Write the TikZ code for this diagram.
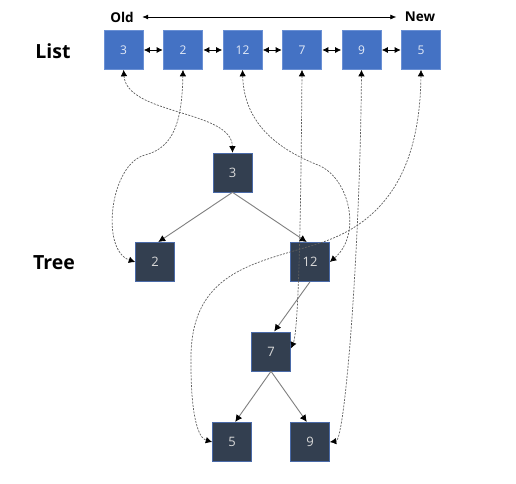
\documentclass[tikz,border=0pt]{standalone}
\usepackage{fontspec}
\setmainfont{Open Sans}
\usetikzlibrary{arrows.meta}
\definecolor{listfill}{HTML}{4472C4}
\definecolor{listborder}{HTML}{6A90D4}
\definecolor{treefill}{HTML}{333F50}
\definecolor{treeborder}{HTML}{4A6AA8}
\definecolor{listtext}{HTML}{E4EBF7}
\definecolor{treetext}{HTML}{D9D9D9}
\definecolor{edgegray}{HTML}{7F7F7F}
\definecolor{dashgray}{HTML}{606060}
\tikzset{
  listbox/.style={draw=listborder, line width=0.6pt, fill=listfill, minimum size=39pt, inner sep=0pt, text=listtext, font=\fontsize{12}{12}\selectfont},
  treebox/.style={draw=treeborder, line width=0.6pt, fill=treefill, minimum size=39pt, inner sep=0pt, text=treetext, font=\fontsize{13}{13}\selectfont},
  lbl/.style={font=\bfseries\fontsize{19.5}{20}\selectfont, text=black},
  small lbl/.style={font=\bfseries\fontsize{13.5}{14}\selectfont, text=black},
  dlink/.style={{Latex[length=6pt,width=6pt]}-{Latex[length=6pt,width=6pt]}, line width=0.8pt, black, shorten <=0.5pt, shorten >=0.5pt},
  tedge/.style={-{Latex[length=7pt,width=7pt,color=black]}, edgegray, line width=0.9pt, shorten >=0.3pt},
  ptr/.style={{Latex[length=6.5pt,width=6.5pt,color=black]}-{Latex[length=6.5pt,width=6.5pt,color=black]}, dashgray, line width=0.7pt, dash pattern=on 2pt off 1.3pt}
}
\begin{document}
\begin{tikzpicture}[x=1pt,y=-1pt]
\useasboundingbox (0,0) rectangle (516,483);
\fill[white] (0,0) rectangle (516,483);
% labels
\node[lbl] (listlbl) at (53,51) {List};
\node[lbl] (treelbl) at (54,263) {Tree};
\node[small lbl] (old) at (122,17) {Old};
\node[small lbl] (new) at (420,17) {New};
\draw[{Latex[length=6pt,width=5pt]}-{Latex[length=6pt,width=5pt]}, line width=0.7pt, black] ([xshift=5pt]old.east) -- ([xshift=-5pt]new.west);
% list
\node[listbox] (l3) at (123.5,50) {3};
\node[listbox] (l2) at (183,50) {2};
\node[listbox] (l12) at (242.5,50) {12};
\node[listbox] (l7) at (302,50) {7};
\node[listbox] (l9) at (361.5,50) {9};
\node[listbox] (l5) at (421,50) {5};
\draw[dlink] (l3) -- (l2);
\draw[dlink] (l2) -- (l12);
\draw[dlink] (l12) -- (l7);
\draw[dlink] (l7) -- (l9);
\draw[dlink] (l9) -- (l5);
% tree
\node[treebox] (t3) at (232.5,172.5) {3};
\node[treebox] (t2) at (155,262) {2};
\node[treebox] (t12) at (310,262) {12};
\node[treebox] (t7) at (271,351.5) {7};
\node[treebox] (t5) at (232,442) {5};
\node[treebox] (t9) at (310,442) {9};
\draw[tedge] (t3.south) -- ([xshift=3pt]t2.north);
\draw[tedge] (t3.south) -- ([xshift=-3pt]t12.north);
\draw[tedge] (t12.south) -- ([xshift=3pt]t7.north);
\draw[tedge] (t7.south) -- ([xshift=3pt]t5.north);
\draw[tedge] (t7.south) -- ([xshift=-3pt]t9.north);
% pointers
\draw[ptr] (l3.south) .. controls (127,115) and (232,110) .. (t3.north);
\draw[ptr] (l2.south) .. controls (182,125) and (172,148) .. (145,155) .. controls (110,164) and (100,250) .. (t2.west);
\draw[ptr] (l12.south) .. controls (244,125) and (280,150) .. (318,165) .. controls (350,178) and (362,235) .. (t12.east);
\draw[ptr] (l7.south) .. controls (301,200) and (299,330) .. ([yshift=3pt]t7.east);
\draw[ptr] (l9.south) .. controls (360,250) and (345,440) .. (t9.east);
\draw[ptr] (l5.south) .. controls (420,170) and (385,222) .. (320,243) .. controls (255,264) and (188,270) .. (191,365) .. controls (191,415) and (198,438) .. (t5.west);
\end{tikzpicture}
\end{document}
